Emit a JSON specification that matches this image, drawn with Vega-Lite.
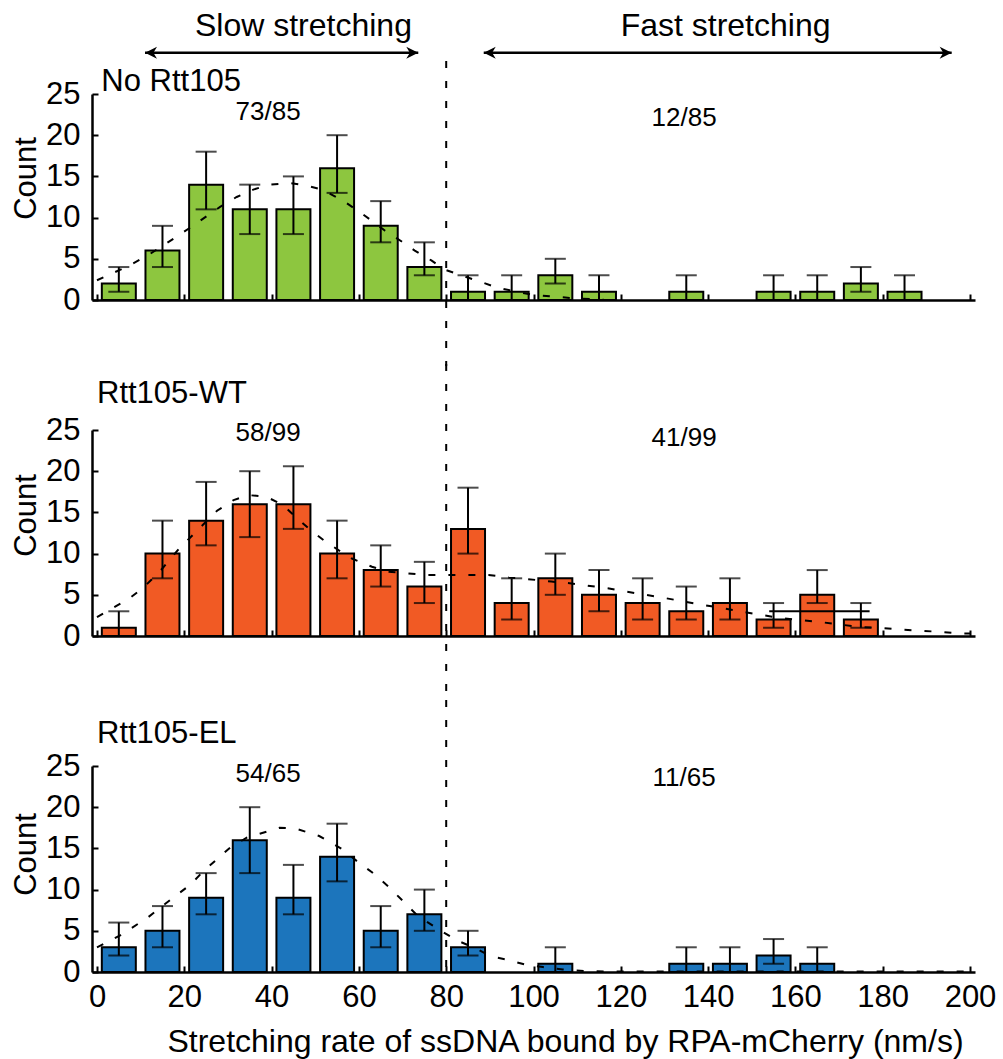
{
  "$schema": "https://vega.github.io/schema/vega-lite/v6.json",
  "usermeta": {"embedOptions": {"actions": false}},
  "autosize": {"type": "none"},
  "padding": {"left": 92, "top": 94, "right": 911, "bottom": 965},
  "bounds": "flush",
  "spacing": 130,
  "config": {
    "view": {"stroke": null},
    "font": "Liberation Sans",
    "axis": {
      "domainColor": "black", "domainWidth": 2.5,
      "tickColor": "black", "tickWidth": 2, "tickSize": -6,
      "labelColor": "black", "labelFont": "Liberation Sans", "labelFontSize": 31,
      "labelFlush": false, "labelOverlap": false, "labelBound": false,
      "grid": false,
      "titleFont": "Liberation Sans", "titleFontSize": 31, "titleFontWeight": "normal", "titleColor": "black"
    }
  },
  "datasets": {
    "bars": [
      {"panel": "No Rtt105", "rate": 5, "count": 2, "lo": 1, "hi": 4},
      {"panel": "No Rtt105", "rate": 15, "count": 6, "lo": 4, "hi": 9},
      {"panel": "No Rtt105", "rate": 25, "count": 14, "lo": 11, "hi": 18},
      {"panel": "No Rtt105", "rate": 35, "count": 11, "lo": 8, "hi": 14},
      {"panel": "No Rtt105", "rate": 45, "count": 11, "lo": 8, "hi": 15},
      {"panel": "No Rtt105", "rate": 55, "count": 16, "lo": 13, "hi": 20},
      {"panel": "No Rtt105", "rate": 65, "count": 9, "lo": 7, "hi": 12},
      {"panel": "No Rtt105", "rate": 75, "count": 4, "lo": 3, "hi": 7},
      {"panel": "No Rtt105", "rate": 85, "count": 1, "lo": 0, "hi": 3},
      {"panel": "No Rtt105", "rate": 95, "count": 1, "lo": 0, "hi": 3},
      {"panel": "No Rtt105", "rate": 105, "count": 3, "lo": 2, "hi": 5},
      {"panel": "No Rtt105", "rate": 115, "count": 1, "lo": 0, "hi": 3},
      {"panel": "No Rtt105", "rate": 135, "count": 1, "lo": 0, "hi": 3},
      {"panel": "No Rtt105", "rate": 155, "count": 1, "lo": 0, "hi": 3},
      {"panel": "No Rtt105", "rate": 165, "count": 1, "lo": 0, "hi": 3},
      {"panel": "No Rtt105", "rate": 175, "count": 2, "lo": 1, "hi": 4},
      {"panel": "No Rtt105", "rate": 185, "count": 1, "lo": 0, "hi": 3},
      {"panel": "Rtt105-WT", "rate": 5, "count": 1, "lo": 0, "hi": 3},
      {"panel": "Rtt105-WT", "rate": 15, "count": 10, "lo": 7, "hi": 14},
      {"panel": "Rtt105-WT", "rate": 25, "count": 14, "lo": 11, "hi": 18.7},
      {"panel": "Rtt105-WT", "rate": 35, "count": 16, "lo": 12, "hi": 20},
      {"panel": "Rtt105-WT", "rate": 45, "count": 16, "lo": 13, "hi": 20.6},
      {"panel": "Rtt105-WT", "rate": 55, "count": 10, "lo": 7, "hi": 14},
      {"panel": "Rtt105-WT", "rate": 65, "count": 8, "lo": 6, "hi": 11},
      {"panel": "Rtt105-WT", "rate": 75, "count": 6, "lo": 4, "hi": 9},
      {"panel": "Rtt105-WT", "rate": 85, "count": 13, "lo": 10, "hi": 18},
      {"panel": "Rtt105-WT", "rate": 95, "count": 4, "lo": 2, "hi": 7},
      {"panel": "Rtt105-WT", "rate": 105, "count": 7, "lo": 5, "hi": 10},
      {"panel": "Rtt105-WT", "rate": 115, "count": 5, "lo": 3, "hi": 8},
      {"panel": "Rtt105-WT", "rate": 125, "count": 4, "lo": 2, "hi": 7},
      {"panel": "Rtt105-WT", "rate": 135, "count": 3, "lo": 2, "hi": 6},
      {"panel": "Rtt105-WT", "rate": 145, "count": 4, "lo": 2, "hi": 7},
      {"panel": "Rtt105-WT", "rate": 155, "count": 2, "lo": 1, "hi": 4},
      {"panel": "Rtt105-WT", "rate": 165, "count": 5, "lo": 4, "hi": 8},
      {"panel": "Rtt105-WT", "rate": 175, "count": 2, "lo": 1, "hi": 4},
      {"panel": "Rtt105-EL", "rate": 5, "count": 3, "lo": 2, "hi": 6},
      {"panel": "Rtt105-EL", "rate": 15, "count": 5, "lo": 3, "hi": 8},
      {"panel": "Rtt105-EL", "rate": 25, "count": 9, "lo": 7, "hi": 12},
      {"panel": "Rtt105-EL", "rate": 35, "count": 16, "lo": 12, "hi": 20},
      {"panel": "Rtt105-EL", "rate": 45, "count": 9, "lo": 7, "hi": 13},
      {"panel": "Rtt105-EL", "rate": 55, "count": 14, "lo": 11, "hi": 18},
      {"panel": "Rtt105-EL", "rate": 65, "count": 5, "lo": 3, "hi": 8},
      {"panel": "Rtt105-EL", "rate": 75, "count": 7, "lo": 5, "hi": 10},
      {"panel": "Rtt105-EL", "rate": 85, "count": 3, "lo": 2, "hi": 5},
      {"panel": "Rtt105-EL", "rate": 105, "count": 1, "lo": 0, "hi": 3},
      {"panel": "Rtt105-EL", "rate": 135, "count": 1, "lo": 0, "hi": 3},
      {"panel": "Rtt105-EL", "rate": 145, "count": 1, "lo": 0, "hi": 3},
      {"panel": "Rtt105-EL", "rate": 155, "count": 2, "lo": 1, "hi": 4},
      {"panel": "Rtt105-EL", "rate": 165, "count": 1, "lo": 0, "hi": 3}
    ],
    "fit": [
      {"panel": "No Rtt105", "x": 0, "y": 2.4}, {"panel": "No Rtt105", "x": 7.1, "y": 4.1},
      {"panel": "No Rtt105", "x": 11.6, "y": 5.4}, {"panel": "No Rtt105", "x": 18, "y": 7.6},
      {"panel": "No Rtt105", "x": 21.4, "y": 8.8}, {"panel": "No Rtt105", "x": 25.2, "y": 10.2},
      {"panel": "No Rtt105", "x": 28.2, "y": 11.3}, {"panel": "No Rtt105", "x": 32, "y": 12.5},
      {"panel": "No Rtt105", "x": 35.8, "y": 13.4}, {"panel": "No Rtt105", "x": 39.6, "y": 14},
      {"panel": "No Rtt105", "x": 44.1, "y": 14.2}, {"panel": "No Rtt105", "x": 47.9, "y": 13.9},
      {"panel": "No Rtt105", "x": 51.6, "y": 13.4}, {"panel": "No Rtt105", "x": 56.2, "y": 12.1},
      {"panel": "No Rtt105", "x": 59.6, "y": 10.9}, {"panel": "No Rtt105", "x": 63, "y": 9.6},
      {"panel": "No Rtt105", "x": 66, "y": 8.4}, {"panel": "No Rtt105", "x": 69.8, "y": 7.1},
      {"panel": "No Rtt105", "x": 72.8, "y": 6}, {"panel": "No Rtt105", "x": 76.6, "y": 4.8},
      {"panel": "No Rtt105", "x": 79.6, "y": 3.7}, {"panel": "No Rtt105", "x": 83.4, "y": 3},
      {"panel": "No Rtt105", "x": 87.9, "y": 2.2}, {"panel": "No Rtt105", "x": 91.7, "y": 1.5},
      {"panel": "No Rtt105", "x": 96.2, "y": 1}, {"panel": "No Rtt105", "x": 100, "y": 0.6},
      {"panel": "No Rtt105", "x": 104.9, "y": 0.4}, {"panel": "No Rtt105", "x": 109.4, "y": 0.2},
      {"panel": "No Rtt105", "x": 116, "y": 0.05},
      {"panel": "Rtt105-WT", "x": 0, "y": 2.3}, {"panel": "Rtt105-WT", "x": 7.5, "y": 4.6},
      {"panel": "Rtt105-WT", "x": 10.5, "y": 5.8}, {"panel": "Rtt105-WT", "x": 14.5, "y": 7.9},
      {"panel": "Rtt105-WT", "x": 18.8, "y": 10.6}, {"panel": "Rtt105-WT", "x": 22.2, "y": 12.4},
      {"panel": "Rtt105-WT", "x": 27.5, "y": 15.2}, {"panel": "Rtt105-WT", "x": 31.3, "y": 16.5},
      {"panel": "Rtt105-WT", "x": 34.7, "y": 17.1}, {"panel": "Rtt105-WT", "x": 38.8, "y": 16.9},
      {"panel": "Rtt105-WT", "x": 42.6, "y": 15.9}, {"panel": "Rtt105-WT", "x": 45.6, "y": 14.4},
      {"panel": "Rtt105-WT", "x": 48.6, "y": 13}, {"panel": "Rtt105-WT", "x": 52, "y": 11.6},
      {"panel": "Rtt105-WT", "x": 55.4, "y": 10.4}, {"panel": "Rtt105-WT", "x": 58.4, "y": 9.4},
      {"panel": "Rtt105-WT", "x": 63, "y": 8.4}, {"panel": "Rtt105-WT", "x": 66.7, "y": 7.8},
      {"panel": "Rtt105-WT", "x": 71.3, "y": 7.6}, {"panel": "Rtt105-WT", "x": 75.4, "y": 7.4},
      {"panel": "Rtt105-WT", "x": 80.3, "y": 7.4}, {"panel": "Rtt105-WT", "x": 84.9, "y": 7.4},
      {"panel": "Rtt105-WT", "x": 89.7, "y": 7.4}, {"panel": "Rtt105-WT", "x": 94.3, "y": 7.1},
      {"panel": "Rtt105-WT", "x": 98.8, "y": 6.9}, {"panel": "Rtt105-WT", "x": 104.1, "y": 6.6},
      {"panel": "Rtt105-WT", "x": 108.3, "y": 6.4}, {"panel": "Rtt105-WT", "x": 112.4, "y": 6.1},
      {"panel": "Rtt105-WT", "x": 117, "y": 5.8}, {"panel": "Rtt105-WT", "x": 121.1, "y": 5.4},
      {"panel": "Rtt105-WT", "x": 125.6, "y": 5}, {"panel": "Rtt105-WT", "x": 130.2, "y": 4.6},
      {"panel": "Rtt105-WT", "x": 134.3, "y": 4.2}, {"panel": "Rtt105-WT", "x": 138.6, "y": 3.8},
      {"panel": "Rtt105-WT", "x": 143, "y": 3.4}, {"panel": "Rtt105-WT", "x": 147.2, "y": 3},
      {"panel": "Rtt105-WT", "x": 151.8, "y": 2.6}, {"panel": "Rtt105-WT", "x": 156.3, "y": 2.2},
      {"panel": "Rtt105-WT", "x": 165.6, "y": 1.7}, {"panel": "Rtt105-WT", "x": 170.1, "y": 1.4},
      {"panel": "Rtt105-WT", "x": 174.6, "y": 1.1}, {"panel": "Rtt105-WT", "x": 178.9, "y": 1},
      {"panel": "Rtt105-WT", "x": 183.7, "y": 0.8}, {"panel": "Rtt105-WT", "x": 188.2, "y": 0.65},
      {"panel": "Rtt105-WT", "x": 193.2, "y": 0.5}, {"panel": "Rtt105-WT", "x": 197.7, "y": 0.3},
      {"panel": "Rtt105-WT", "x": 200, "y": 0.3},
      {"panel": "Rtt105-EL", "x": 0, "y": 3}, {"panel": "Rtt105-EL", "x": 5.2, "y": 4.4},
      {"panel": "Rtt105-EL", "x": 11.6, "y": 6.6}, {"panel": "Rtt105-EL", "x": 16.9, "y": 8.8},
      {"panel": "Rtt105-EL", "x": 21.4, "y": 10.6}, {"panel": "Rtt105-EL", "x": 24.5, "y": 12.3},
      {"panel": "Rtt105-EL", "x": 30.5, "y": 15.1}, {"panel": "Rtt105-EL", "x": 34.3, "y": 16.3},
      {"panel": "Rtt105-EL", "x": 41.8, "y": 17.5}, {"panel": "Rtt105-EL", "x": 45.6, "y": 17.4},
      {"panel": "Rtt105-EL", "x": 50.9, "y": 16.5}, {"panel": "Rtt105-EL", "x": 56.2, "y": 14.9},
      {"panel": "Rtt105-EL", "x": 59.9, "y": 13.3}, {"panel": "Rtt105-EL", "x": 63, "y": 12.1},
      {"panel": "Rtt105-EL", "x": 66.7, "y": 10.4}, {"panel": "Rtt105-EL", "x": 70.5, "y": 8.4},
      {"panel": "Rtt105-EL", "x": 73.5, "y": 6.8}, {"panel": "Rtt105-EL", "x": 78.8, "y": 5},
      {"panel": "Rtt105-EL", "x": 82.6, "y": 3.8}, {"panel": "Rtt105-EL", "x": 87.1, "y": 2.8},
      {"panel": "Rtt105-EL", "x": 90.1, "y": 1.9}, {"panel": "Rtt105-EL", "x": 93.9, "y": 1.5},
      {"panel": "Rtt105-EL", "x": 98.1, "y": 0.9}, {"panel": "Rtt105-EL", "x": 102.2, "y": 0.6},
      {"panel": "Rtt105-EL", "x": 106.7, "y": 0.3}, {"panel": "Rtt105-EL", "x": 112, "y": 0.1},
      {"panel": "Rtt105-EL", "x": 120, "y": 0.05}, {"panel": "Rtt105-EL", "x": 200, "y": 0.05}
    ],
    "labels": [
      {"panel": "No Rtt105", "x": 39.2, "y": 21.8, "label": "73/85"},
      {"panel": "No Rtt105", "x": 134.5, "y": 21.1, "label": "12/85"},
      {"panel": "Rtt105-WT", "x": 39.2, "y": 23.7, "label": "58/99"},
      {"panel": "Rtt105-WT", "x": 134.5, "y": 23.1, "label": "41/99"},
      {"panel": "Rtt105-EL", "x": 39.2, "y": 23.1, "label": "54/65"},
      {"panel": "Rtt105-EL", "x": 134.5, "y": 22.6, "label": "11/65"}
    ],
    "titles": [
      {"panel": "No Rtt105", "x": 1.0, "y": 25.4, "label": "No Rtt105"},
      {"panel": "Rtt105-WT", "x": 0, "y": 28.3, "label": "Rtt105-WT"},
      {"panel": "Rtt105-EL", "x": 0, "y": 27.8, "label": "Rtt105-EL"}
    ],
    "arrows": [
      {"from": 11, "to": 73.6, "y": 30, "mid": 47.3, "ty": 32, "label": "Slow stretching"},
      {"from": 88.6, "to": 195.8, "y": 30, "mid": 144, "ty": 32, "label": "Fast stretching"}
    ],
    "divider": [{"x": 80}],
    "artifact": [{"x": 154, "x2": 177, "y": 3}]
  },
  "vconcat": [
    {
      "width": 883, "height": 206,
      "layer": [
        {"data": {"name": "bars"}, "transform": [{"filter": "datum.panel === 'No Rtt105'"}],
         "mark": {"type": "bar", "width": 34, "fill": "#8DC63F", "stroke": "black", "strokeWidth": 2, "orient": "vertical"},
         "encoding": {
           "x": {"field": "rate", "type": "quantitative", "scale": {"domain": [0, 200], "nice": false, "zero": false},
                 "axis": {"values": [0, 20, 40, 60, 80, 100, 120, 140, 160, 180, 200], "labels": false, "title": null}},
           "y": {"field": "count", "type": "quantitative", "scale": {"domain": [0, 25], "nice": false},
                 "axis": {"values": [0, 5, 10, 15, 20, 25], "labelPadding": 18, "title": "Count", "titleX": -57, "titleY": 84, "titleAngle": 270, "titleBaseline": "alphabetic", "titleAlign": "center"}}
         }},
        {"data": {"name": "bars"}, "transform": [{"filter": "datum.panel === 'No Rtt105'"}],
         "mark": {"type": "rule", "color": "black", "strokeWidth": 2},
         "encoding": {"x": {"field": "rate", "type": "quantitative"}, "y": {"field": "lo", "type": "quantitative"}, "y2": {"field": "hi"}}},
        {"data": {"name": "bars"}, "transform": [{"filter": "datum.panel === 'No Rtt105'"}],
         "mark": {"type": "tick", "orient": "horizontal", "color": "black", "size": 21, "thickness": 2},
         "encoding": {"x": {"field": "rate", "type": "quantitative"}, "y": {"field": "lo", "type": "quantitative"}}},
        {"data": {"name": "bars"}, "transform": [{"filter": "datum.panel === 'No Rtt105'"}],
         "mark": {"type": "tick", "orient": "horizontal", "color": "black", "size": 21, "thickness": 2},
         "encoding": {"x": {"field": "rate", "type": "quantitative"}, "y": {"field": "hi", "type": "quantitative"}}},
        {"data": {"name": "fit"}, "transform": [{"filter": "datum.panel === 'No Rtt105'"}],
         "mark": {"type": "line", "color": "black", "strokeWidth": 2, "strokeDash": [7, 13]},
         "encoding": {"x": {"field": "x", "type": "quantitative"}, "y": {"field": "y", "type": "quantitative"}}},
        {"data": {"name": "divider"},
         "mark": {"type": "rule", "color": "black", "strokeWidth": 2, "strokeDash": [7, 13]},
         "encoding": {"x": {"field": "x", "type": "quantitative"}, "y": {"datum": 29, "type": "quantitative"}, "y2": {"datum": -8}}},
        {"data": {"name": "labels"}, "transform": [{"filter": "datum.panel === 'No Rtt105'"}],
         "mark": {"type": "text", "fontSize": 26, "align": "center", "baseline": "alphabetic", "color": "black"},
         "encoding": {"x": {"field": "x", "type": "quantitative"}, "y": {"field": "y", "type": "quantitative"}, "text": {"field": "label"}}},
        {"data": {"name": "titles"}, "transform": [{"filter": "datum.panel === 'No Rtt105'"}],
         "mark": {"type": "text", "fontSize": 31, "align": "left", "baseline": "alphabetic", "color": "black"},
         "encoding": {"x": {"field": "x", "type": "quantitative"}, "y": {"field": "y", "type": "quantitative"}, "text": {"field": "label"}}},
        {"data": {"name": "arrows"},
         "mark": {"type": "rule", "color": "black", "strokeWidth": 2.5},
         "encoding": {"x": {"field": "from", "type": "quantitative"}, "x2": {"field": "to"}, "y": {"field": "y", "type": "quantitative"}}},
        {"data": {"name": "arrows"},
         "mark": {"type": "point", "filled": true, "opacity": 1, "color": "black", "size": 144, "shape": "M0,0L2,-1L1.4,0L2,1Z"},
         "encoding": {"x": {"field": "from", "type": "quantitative"}, "y": {"field": "y", "type": "quantitative"}}},
        {"data": {"name": "arrows"},
         "mark": {"type": "point", "filled": true, "opacity": 1, "color": "black", "size": 144, "shape": "M0,0L-2,-1L-1.4,0L-2,1Z"},
         "encoding": {"x": {"field": "to", "type": "quantitative"}, "y": {"field": "y", "type": "quantitative"}}},
        {"data": {"name": "arrows"},
         "mark": {"type": "text", "fontSize": 32, "align": "center", "baseline": "alphabetic", "color": "black"},
         "encoding": {"x": {"field": "mid", "type": "quantitative"}, "y": {"field": "ty", "type": "quantitative"}, "text": {"field": "label"}}}
      ]
    },
    {
      "width": 883, "height": 206,
      "layer": [
        {"data": {"name": "bars"}, "transform": [{"filter": "datum.panel === 'Rtt105-WT'"}],
         "mark": {"type": "bar", "width": 34, "fill": "#F15A24", "stroke": "black", "strokeWidth": 2, "orient": "vertical"},
         "encoding": {
           "x": {"field": "rate", "type": "quantitative", "scale": {"domain": [0, 200], "nice": false, "zero": false},
                 "axis": {"values": [0, 20, 40, 60, 80, 100, 120, 140, 160, 180, 200], "labels": false, "title": null}},
           "y": {"field": "count", "type": "quantitative", "scale": {"domain": [0, 25], "nice": false},
                 "axis": {"values": [0, 5, 10, 15, 20, 25], "labelPadding": 18, "title": "Count", "titleX": -57, "titleY": 85, "titleAngle": 270, "titleBaseline": "alphabetic", "titleAlign": "center"}}
         }},
        {"data": {"name": "bars"}, "transform": [{"filter": "datum.panel === 'Rtt105-WT'"}],
         "mark": {"type": "rule", "color": "black", "strokeWidth": 2},
         "encoding": {"x": {"field": "rate", "type": "quantitative"}, "y": {"field": "lo", "type": "quantitative"}, "y2": {"field": "hi"}}},
        {"data": {"name": "bars"}, "transform": [{"filter": "datum.panel === 'Rtt105-WT'"}],
         "mark": {"type": "tick", "orient": "horizontal", "color": "black", "size": 21, "thickness": 2},
         "encoding": {"x": {"field": "rate", "type": "quantitative"}, "y": {"field": "lo", "type": "quantitative"}}},
        {"data": {"name": "bars"}, "transform": [{"filter": "datum.panel === 'Rtt105-WT'"}],
         "mark": {"type": "tick", "orient": "horizontal", "color": "black", "size": 21, "thickness": 2},
         "encoding": {"x": {"field": "rate", "type": "quantitative"}, "y": {"field": "hi", "type": "quantitative"}}},
        {"data": {"name": "artifact"},
         "mark": {"type": "rule", "color": "black", "strokeWidth": 2},
         "encoding": {"x": {"field": "x", "type": "quantitative"}, "x2": {"field": "x2"}, "y": {"field": "y", "type": "quantitative"}}},
        {"data": {"name": "fit"}, "transform": [{"filter": "datum.panel === 'Rtt105-WT'"}],
         "mark": {"type": "line", "color": "black", "strokeWidth": 2, "strokeDash": [7, 13]},
         "encoding": {"x": {"field": "x", "type": "quantitative"}, "y": {"field": "y", "type": "quantitative"}}},
        {"data": {"name": "divider"},
         "mark": {"type": "rule", "color": "black", "strokeWidth": 2, "strokeDash": [7, 13]},
         "encoding": {"x": {"field": "x", "type": "quantitative"}, "y": {"datum": 33, "type": "quantitative"}, "y2": {"datum": -8}}},
        {"data": {"name": "labels"}, "transform": [{"filter": "datum.panel === 'Rtt105-WT'"}],
         "mark": {"type": "text", "fontSize": 26, "align": "center", "baseline": "alphabetic", "color": "black"},
         "encoding": {"x": {"field": "x", "type": "quantitative"}, "y": {"field": "y", "type": "quantitative"}, "text": {"field": "label"}}},
        {"data": {"name": "titles"}, "transform": [{"filter": "datum.panel === 'Rtt105-WT'"}],
         "mark": {"type": "text", "fontSize": 31, "align": "left", "baseline": "alphabetic", "color": "black"},
         "encoding": {"x": {"field": "x", "type": "quantitative"}, "y": {"field": "y", "type": "quantitative"}, "text": {"field": "label"}}}
      ]
    },
    {
      "width": 883, "height": 206,
      "layer": [
        {"data": {"name": "bars"}, "transform": [{"filter": "datum.panel === 'Rtt105-EL'"}],
         "mark": {"type": "bar", "width": 34, "fill": "#1C75BC", "stroke": "black", "strokeWidth": 2, "orient": "vertical"},
         "encoding": {
           "x": {"field": "rate", "type": "quantitative", "scale": {"domain": [0, 200], "nice": false, "zero": false},
                 "axis": {"values": [0, 20, 40, 60, 80, 100, 120, 140, 160, 180, 200], "labelPadding": 16, "title": "Stretching rate of ssDNA bound by RPA-mCherry  (nm/s)", "titleFontSize": 32, "titleX": 473, "titleY": 79, "titleBaseline": "alphabetic", "titleAlign": "center"}},
           "y": {"field": "count", "type": "quantitative", "scale": {"domain": [0, 25], "nice": false},
                 "axis": {"values": [0, 5, 10, 15, 20, 25], "labelPadding": 18, "title": "Count", "titleX": -57, "titleY": 88, "titleAngle": 270, "titleBaseline": "alphabetic", "titleAlign": "center"}}
         }},
        {"data": {"name": "bars"}, "transform": [{"filter": "datum.panel === 'Rtt105-EL'"}],
         "mark": {"type": "rule", "color": "black", "strokeWidth": 2},
         "encoding": {"x": {"field": "rate", "type": "quantitative"}, "y": {"field": "lo", "type": "quantitative"}, "y2": {"field": "hi"}}},
        {"data": {"name": "bars"}, "transform": [{"filter": "datum.panel === 'Rtt105-EL'"}],
         "mark": {"type": "tick", "orient": "horizontal", "color": "black", "size": 21, "thickness": 2},
         "encoding": {"x": {"field": "rate", "type": "quantitative"}, "y": {"field": "lo", "type": "quantitative"}}},
        {"data": {"name": "bars"}, "transform": [{"filter": "datum.panel === 'Rtt105-EL'"}],
         "mark": {"type": "tick", "orient": "horizontal", "color": "black", "size": 21, "thickness": 2},
         "encoding": {"x": {"field": "rate", "type": "quantitative"}, "y": {"field": "hi", "type": "quantitative"}}},
        {"data": {"name": "fit"}, "transform": [{"filter": "datum.panel === 'Rtt105-EL'"}],
         "mark": {"type": "line", "color": "black", "strokeWidth": 2, "strokeDash": [7, 13]},
         "encoding": {"x": {"field": "x", "type": "quantitative"}, "y": {"field": "y", "type": "quantitative"}}},
        {"data": {"name": "divider"},
         "mark": {"type": "rule", "color": "black", "strokeWidth": 2, "strokeDash": [7, 13]},
         "encoding": {"x": {"field": "x", "type": "quantitative"}, "y": {"datum": 33, "type": "quantitative"}, "y2": {"datum": 0}}},
        {"data": {"name": "labels"}, "transform": [{"filter": "datum.panel === 'Rtt105-EL'"}],
         "mark": {"type": "text", "fontSize": 26, "align": "center", "baseline": "alphabetic", "color": "black"},
         "encoding": {"x": {"field": "x", "type": "quantitative"}, "y": {"field": "y", "type": "quantitative"}, "text": {"field": "label"}}},
        {"data": {"name": "titles"}, "transform": [{"filter": "datum.panel === 'Rtt105-EL'"}],
         "mark": {"type": "text", "fontSize": 31, "align": "left", "baseline": "alphabetic", "color": "black"},
         "encoding": {"x": {"field": "x", "type": "quantitative"}, "y": {"field": "y", "type": "quantitative"}, "text": {"field": "label"}}}
      ]
    }
  ]
}
